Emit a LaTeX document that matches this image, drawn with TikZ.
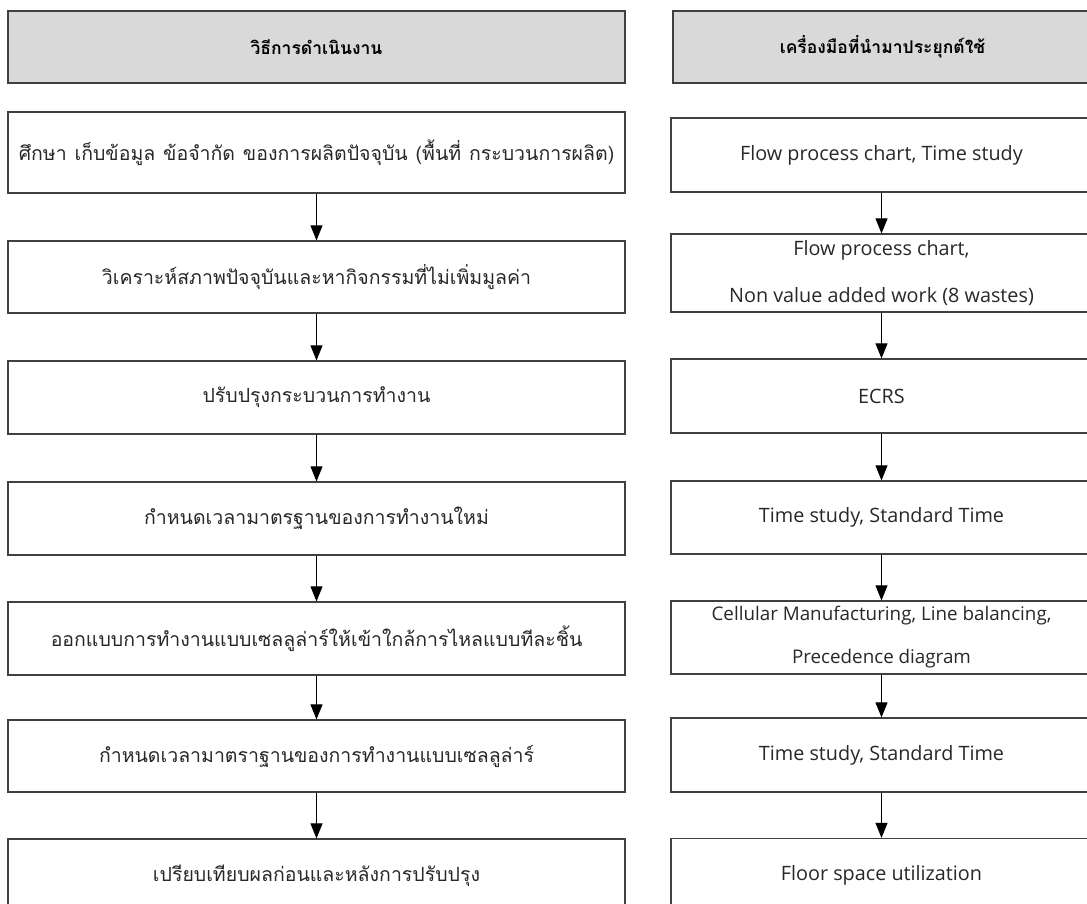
\documentclass[tikz,border=0pt]{standalone}
\usepackage{fontspec}
\newfontfamily\thaifont[Script=Thai,WordSpace=1.2]{Loma}
\newfontfamily\toolfont{Open Sans}
\usetikzlibrary{arrows.meta,positioning}
\definecolor{boxline}{RGB}{64,64,64}
\definecolor{headfill}{RGB}{217,217,217}
\definecolor{inktext}{RGB}{40,40,40}

\begin{document}
\begin{tikzpicture}[x=1pt,y=-1pt,
    headbox/.style={draw=boxline,line width=1.3pt,fill=headfill,inner sep=0pt,minimum height=72pt,
      font=\thaifont\bfseries\fontsize{17.5}{20}\selectfont},
    stepbox/.style={draw=boxline,line width=1.2pt,fill=white,inner sep=0pt,minimum width=617pt,minimum height=73pt,
      text=inktext,font=\thaifont\fontsize{19.5}{22}\selectfont},
    toolbox/.style={draw=boxline,line width=1.2pt,fill=white,inner sep=0pt,minimum width=421pt,minimum height=74pt,
      text=inktext,align=center,font=\toolfont\fontsize{19.8}{47}\selectfont},
    flow/.style={-{Triangle[length=15pt,width=12pt]},line width=0.9pt}]
  \useasboundingbox (0,0) rectangle (1087,904);
  \clip (0,0) rectangle (1087,904);

  % headers
  \node[headbox,minimum width=617pt] (hmethod) at (316.5,47) {วิธีการดำเนินงาน};
  \node[headbox,minimum width=419pt] (htool) at (882.5,47) {เครื่องมือที่นำมาประยุกต์ใช้};

  % left column: steps
  \node[stepbox,minimum height=81pt] (s1) at (316.5,152.5) {ศึกษา เก็บข้อมูล ข้อจำกัด ของการผลิตปัจจุบัน (พื้นที่ กระบวนการผลิต)};
  \node[stepbox,minimum height=72pt] (s2) at (316.5,277) {วิเคราะห์สภาพปัจจุบันและหากิจกรรมที่ไม่เพิ่มมูลค่า};
  \node[stepbox] (s3) at (316.5,397.5) {ปรับปรุงกระบวนการทำงาน};
  \node[stepbox] (s4) at (316.5,518.5) {กำหนดเวลามาตรฐานของการทำงานใหม่};
  \node[stepbox] (s5) at (316.5,638.5) {ออกแบบการทำงานแบบเซลลูล่าร์ให้เข้าใกล้การไหลแบบทีละชิ้น};
  \node[stepbox,minimum height=72pt] (s6) at (316.5,756) {กำหนดเวลามาตราฐานของการทำงานแบบเซลลูล่าร์};
  \node[stepbox] (s7) at (316.5,875.5) {เปรียบเทียบผลก่อนและหลังการปรับปรุง};

  % right column: tools
  \node[toolbox] (t1) at (881.5,155) {Flow process chart, Time study};
  \node[toolbox,minimum height=78pt] (t2) at (881.5,273) {Flow process chart,\\Non value added work (8 wastes)};
  \node[toolbox] (t3) at (881.5,396) {ECRS};
  \node[toolbox,minimum height=73pt] (t4) at (881.5,517.5) {Time study, Standard Time};
  \node[toolbox,minimum height=73pt,font=\toolfont\fontsize{18.8}{43}\selectfont] (t5) at (881.5,637.5) {Cellular Manufacturing, Line balancing,\\Precedence diagram};
  \node[toolbox] (t6) at (881.5,755) {Time study, Standard Time};
  \node[toolbox,minimum height=73pt] (t7) at (881.5,875) {Floor space utilization};

  % arrows
  \foreach \a/\b in {s1/s2,s2/s3,s3/s4,s4/s5,s5/s6,s6/s7,t1/t2,t2/t3,t3/t4,t4/t5,t5/t6,t6/t7}
    \draw[flow] (\a) -- (\b);
\end{tikzpicture}
\end{document}
